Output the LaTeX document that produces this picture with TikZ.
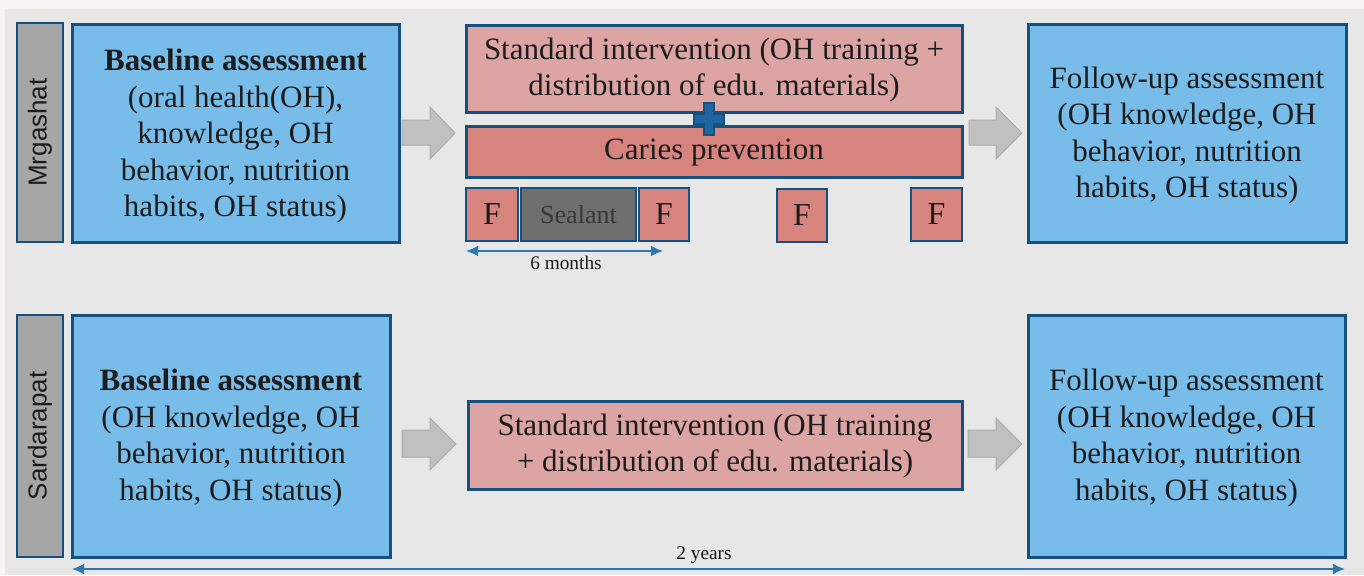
\documentclass[tikz,border=0pt]{standalone}
\usepackage{fontspec}
\setmainfont{Liberation Serif}
\newfontfamily\lblfont{Liberation Sans}
\usetikzlibrary{arrows.meta,fit}
\definecolor{bgout}{HTML}{F6F5F3}
\definecolor{bg}{HTML}{E7E7E7}
\definecolor{boxblue}{HTML}{78BCE9}
\definecolor{edgeblue}{HTML}{16507F}
\definecolor{plusblue}{HTML}{1F66A0}
\definecolor{pinklight}{HTML}{DCA4A2}
\definecolor{pinkdark}{HTML}{D7837E}
\definecolor{sealgray}{HTML}{6F6F6F}
\definecolor{lblgray}{HTML}{A6A6A6}
\definecolor{arrgray}{HTML}{C0C0C0}
\definecolor{arredge}{HTML}{ABABAB}
\definecolor{timeblue}{HTML}{2A78B8}
\definecolor{ink}{HTML}{1C1C1C}
\tikzset{
  box/.style={draw=edgeblue, line width=2.25pt, inner sep=0pt},
  bluebox/.style={box, fill=boxblue},
  stdbox/.style={box, fill=pinklight},
  cariesbox/.style={box, fill=pinkdark},
  fbox/.style={box, fill=pinkdark, line width=2pt},
  sealbox/.style={box, fill=sealgray, line width=2pt},
  lblbox/.style={draw=edgeblue, line width=1.5pt, fill=lblgray, inner sep=0pt},
  boxtext/.style={align=center, text=ink, inner sep=0pt, font=\fontsize{23.25}{27.3}\selectfont},
  ftext/.style={text=ink, inner sep=0pt, font=\fontsize{24}{27}\selectfont},
  sealtext/.style={text=black!78, inner sep=0pt, font=\fontsize{19.5}{22}\selectfont},
  lbltext/.style={rotate=90, text=ink, font=\lblfont\fontsize{19.5}{22}\selectfont},
  blockarrow/.style={fill=arrgray, draw=arredge, line width=0.75pt},
  timearrow/.style={draw=timeblue, line width=1.1pt, {Latex[length=9pt,width=8pt]}-{Latex[length=9pt,width=8pt]}},
  timelabel/.style={text=ink, font=\fontsize{14.5}{17}\selectfont, inner sep=1pt},
}
\begin{document}
\begin{tikzpicture}[x=0.75pt,y=-0.75pt]
\useasboundingbox (0,0) rectangle (1364,575);
\fill[bgout] (0,0) rectangle (1364,575);
\fill[bg] (5,9) rectangle (1364,575);

% ---- Mrgashat row ----
\node[lblbox, fit={(17,23)(63,242)}] (l1) {};
\node[lbltext] (l1t) at (l1.center) {Mrgashat};
\node[bluebox, fit={(72,24)(399,242)}] (b1) {};
\node[boxtext] (b1t) at ([yshift=-2.5pt]b1.center) {\textbf{Baseline assessment}\\(oral health(OH),\\knowledge, OH\\behavior, nutrition\\habits, OH status)};
\node[stdbox, fit={(466,25)(962,112)}] (s1) {};
\node[boxtext] (s1t) at ([yshift=-1pt]s1.center) {Standard intervention (OH training +\\distribution of edu. materials)};
\node[cariesbox, fit={(466,126)(962,177)}] (c1) {};
\node[boxtext] (c1t) at ([yshift=-1pt]c1.center) {Caries prevention};
\node[fbox, fit={(466,188)(518,241)}] (fa) {};
\node[ftext] (fat) at (fa.center) {F};
\node[sealbox, fit={(521,188)(636,241)}] (sl) {};
\node[sealtext] (slt) at (sl.center) {Sealant};
\node[fbox, fit={(639,188)(689,241)}] (fb) {};
\node[ftext] (fbt) at (fb.center) {F};
\node[fbox, fit={(777,189)(827,242)}] (fc) {};
\node[ftext] (fct) at (fc.center) {F};
\node[fbox, fit={(911,188)(962,241)}] (fd) {};
\node[ftext] (fdt) at (fd.center) {F};
\node[bluebox, fit={(1028,24)(1346,242)}] (f1) {};
\node[boxtext] (f1t) at ([yshift=-2pt]f1.center) {Follow-up assessment\\(OH knowledge, OH\\behavior, nutrition\\habits, OH status)};

% plus sign
\draw[edgeblue, fill=plusblue, line width=1.2pt]
  (704,103) -- (714,103) -- (714,114) -- (724,114) -- (724,124) -- (714,124) -- (714,135)
  -- (704,135) -- (704,124) -- (694,124) -- (694,114) -- (704,114) -- cycle;

% block arrows row 1
\draw[blockarrow] (402,120) -- (430,120) -- (430,107) -- (455,133) -- (430,159) -- (430,145) -- (402,145) -- cycle;
\draw[blockarrow] (969,120) -- (996,120) -- (996,107) -- (1022,133) -- (996,159) -- (996,145) -- (969,145) -- cycle;

% 6 months
\coordinate (m6a) at (466,251);
\coordinate (m6b) at (663,251);
\draw[timearrow] (m6a) -- (m6b);
\node[timelabel] (m6) at (566,263) {6 months};

% ---- Sardarapat row ----
\node[lblbox, fit={(17,315)(63,557)}] (l2) {};
\node[lbltext] (l2t) at (l2.center) {Sardarapat};
\node[bluebox, fit={(72,315)(390,557)}] (b2) {};
\node[boxtext] (b2t) at ([yshift=-1.5pt]b2.center) {\textbf{Baseline assessment}\\(OH knowledge, OH\\behavior, nutrition\\habits, OH status)};
\node[stdbox, fit={(468,401)(962,489)}] (s2) {};
\node[boxtext] (s2t) at ([yshift=-1pt]s2.center) {Standard intervention (OH training\\+ distribution of edu. materials)};
\node[bluebox, fit={(1028,315)(1345,557)}] (f2) {};
\node[boxtext] (f2t) at ([yshift=-1.5pt]f2.center) {Follow-up assessment\\(OH knowledge, OH\\behavior, nutrition\\habits, OH status)};

\draw[blockarrow] (402,430) -- (430,430) -- (430,418) -- (456,444) -- (430,470) -- (430,457) -- (402,457) -- cycle;
\draw[blockarrow] (968,430) -- (996,430) -- (996,418) -- (1022,444) -- (996,470) -- (996,457) -- (968,457) -- cycle;

% 2 years
\coordinate (y2a) at (72,569);
\coordinate (y2b) at (1345,569);
\draw[timearrow] (y2a) -- (y2b);
\node[timelabel] (y2) at (704,555) {2 years};
\end{tikzpicture}
\end{document}
